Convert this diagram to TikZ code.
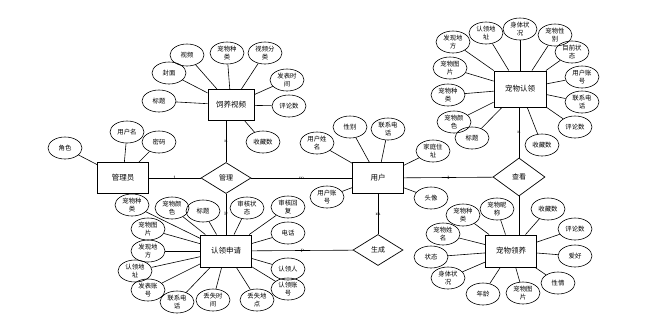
\documentclass[tikz,border=0pt]{standalone}
\usepackage{fontspec}
\newfontfamily\cjk{Noto Sans CJK SC}
\usetikzlibrary{shapes.geometric}
\tikzset{
  ent/.style={draw, line width=0.9pt, minimum width=51pt, minimum height=32pt, inner sep=1pt, font=\cjk\fontsize{7.5}{9}\selectfont},
  attr/.style={draw, ellipse, line width=0.6pt, minimum width=34pt, minimum height=22pt, inner sep=0pt, align=center, font=\cjk\fontsize{6.4}{7.2}\selectfont},
  rel/.style={draw, diamond, line width=0.7pt, minimum width=50pt, minimum height=31pt, inner sep=0pt, font=\cjk\fontsize{7}{8}\selectfont},
  card/.style={font=\fontsize{5}{5}\selectfont, inner sep=0.3pt},
  conn/.style={line width=0.6pt}
}
\newcommand\attrib[4]{\node[attr] (#1) at (#2) {#3}; \draw[conn] (#4) -- (#1);}
\begin{document}
\begin{tikzpicture}[x=1pt,y=-1pt]
\useasboundingbox (0,0) rectangle (670,327);
% entities
\node[ent, minimum width=46pt, minimum height=31pt] (sv) at (231,105) {饲养视频};
\node[ent, minimum height=31pt] (gly) at (123,178) {管理员};
\node[ent, minimum height=31pt] (yh) at (378,178) {用户};
\node[ent, minimum width=52pt, minimum height=36pt] (cwrl) at (520,89) {宠物认领};
\node[ent] (cwly) at (511,251) {宠物领养};
\node[ent] (rlsq) at (226,251) {认领申请};
% relations
\node[rel] (gl) at (226,178) {管理};
\node[rel, minimum width=52pt, minimum height=38pt] (ck) at (519,177) {查看};
\node[rel] (sc) at (378,250) {生成};
% relationship lines
\draw[conn] (gly) -- node[card]{1} (gl);
\draw[conn] (gl) -- node[card]{m} (yh);
\draw[conn] (gl.north) -- node[card]{n} (gl.north |- sv.south);
\draw[conn] (gl.south) -- node[card]{p} (gl.south |- rlsq.north);
\draw[conn] (yh) -- node[card]{1} (ck);
\draw[conn] (ck.north) -- node[card]{n} (ck.north |- cwrl.south);
\draw[conn] (ck.south) -- (ck.south |- cwly.north);
\draw[conn] (yh) -- node[card]{m} (sc);
\draw[conn] (sc) -- node[card]{p} (rlsq);
% 饲养视频
\attrib{s1}{187,55}{视频}{sv}
\attrib{s2}{227,53}{宠物种\\类}{sv}
\attrib{s3}{265,53}{视频分\\类}{sv}
\attrib{s4}{169,73}{封面}{sv}
\attrib{s5}{287,80}{发表时\\间}{sv}
\attrib{s6}{159,101}{标题}{sv}
\attrib{s7}{289,106}{评论数}{sv}
\attrib{s8}{263,142}{收藏数}{sv}
% 管理员
\attrib{g1}{65,148}{角色}{gly}
\attrib{g2}{127,132}{用户名}{gly}
\attrib{g3}{159,142}{密码}{gly}
% 用户
\attrib{u1}{317,143}{用户姓\\名}{yh}
\attrib{u2}{350,127}{性别}{yh}
\attrib{u3}{388,129}{联系电\\话}{yh}
\attrib{u4}{433,151}{家庭住\\址}{yh}
\attrib{u5}{431,198}{头像}{yh}
\attrib{u6}{327,197}{用户账\\号}{yh}
% 宠物认领
\attrib{r1}{453,42}{发现地\\方}{cwrl}
\attrib{r2}{486,33}{认领地\\址}{cwrl}
\attrib{r3}{520,29}{身体状\\况}{cwrl}
\attrib{r4}{555,35}{宠物性\\别}{cwrl}
\attrib{r5}{572,52}{目前状\\态}{cwrl}
\attrib{r6}{582,77}{用户账\\号}{cwrl}
\attrib{r7}{582,102}{联系电\\话}{cwrl}
\attrib{r8}{575,127}{评论数}{cwrl}
\attrib{r9}{542,145}{收藏数}{cwrl}
\attrib{r10}{472,138}{标题}{cwrl}
\attrib{r11}{454,122}{宠物颜\\色}{cwrl}
\attrib{r12}{448,95}{宠物种\\类}{cwrl}
\attrib{r13}{450,68}{宠物图\\片}{cwrl}
% 宠物领养
\attrib{l1}{463,215}{宠物种\\类}{cwly}
\attrib{l2}{497,209}{宠物昵\\称}{cwly}
\attrib{l3}{548,209}{收藏数}{cwly}
\attrib{l4}{575,229}{评论数}{cwly}
\attrib{l5}{575,256}{爱好}{cwly}
\attrib{l6}{558,283}{性情}{cwly}
\attrib{l7}{523,293}{宠物图\\片}{cwly}
\attrib{l8}{483,294}{年龄}{cwly}
\attrib{l9}{448,278}{身体状\\况}{cwly}
\attrib{l10}{431,257}{状态}{cwly}
\attrib{l11}{443,234}{宠物姓\\名}{cwly}
% 认领申请
\attrib{q1}{132,205}{宠物种\\类}{rlsq}
\attrib{q2}{172,208}{宠物颜\\色}{rlsq}
\attrib{q3}{203,211}{标题}{rlsq}
\attrib{q4}{247,208}{审核状\\态}{rlsq}
\attrib{q5}{288,207}{审核回\\复}{rlsq}
\attrib{q6}{148,229}{宠物图\\片}{rlsq}
\attrib{q7}{288,233}{电话}{rlsq}
\attrib{q8}{148,251}{发现地\\方}{rlsq}
\attrib{q9}{288,269}{认领人}{rlsq}
\attrib{q10}{135,271}{认领地\\址}{rlsq}
\attrib{q11}{288,289}{认领账\\号}{rlsq}
\attrib{q12}{148,290}{发表账\\号}{rlsq}
\attrib{q13}{177,302}{联系电\\话}{rlsq}
\attrib{q14}{213,300}{丢失时\\间}{rlsq}
\attrib{q15}{257,300}{丢失地\\点}{rlsq}
\end{tikzpicture}
\end{document}
